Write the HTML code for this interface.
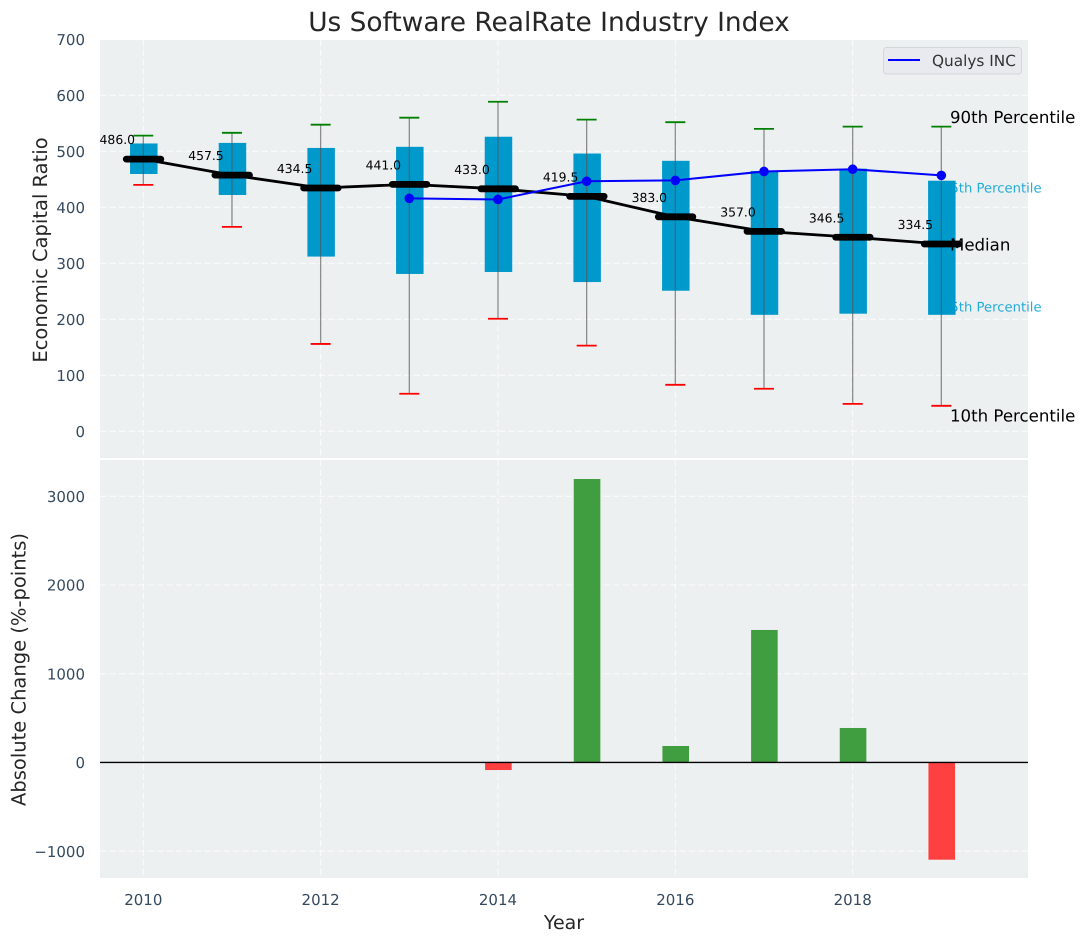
<!DOCTYPE html>
<html lang="en">
<head>
<meta charset="utf-8">
<title>Us Software RealRate Industry Index</title>
<style>
  html, body { margin: 0; padding: 0; background: #fff; }
  svg { display: block; font-family: "DejaVu Sans", "Liberation Sans", sans-serif; text-rendering: geometricPrecision; }
</style>
</head>
<body>
<svg id="chart" width="1085" height="942" viewBox="0 0 1085 942" xmlns="http://www.w3.org/2000/svg">
  <rect width="1085" height="942" fill="#ffffff"/>
  <rect x="100" y="40" width="928" height="418" fill="#ecf0f1"/>
  <rect x="100" y="460" width="928" height="418" fill="#ecf0f1"/>
  <g id="grid"></g>
  <g id="percentile-labels">
    <text x="942" y="192.500" font-size="13.200" fill="#00a0d2" fill-opacity="0.85">75th Percentile</text>
    <text x="942" y="311.500" font-size="13.200" fill="#00a0d2" fill-opacity="0.85">25th Percentile</text>
  </g>
  <g id="marks"></g>
  <g id="annotations">
    <text x="950" y="123" font-size="16.600" fill="#000000">90th Percentile</text>
    <text x="950" y="250.500" font-size="16.600" fill="#000000">Median</text>
    <text x="950" y="421.500" font-size="16.600" fill="#000000">10th Percentile</text>
  </g>
  <g id="axis-labels"></g>
  <text x="549" y="31" font-size="26.400" fill="#262626" text-anchor="middle">Us Software RealRate Industry Index</text>
  <text transform="translate(47,250) rotate(-90)" font-size="19.500" fill="#262626" text-anchor="middle">Economic Capital Ratio</text>
  <text transform="translate(25.500,669.500) rotate(-90)" font-size="19.500" fill="#262626" text-anchor="middle">Absolute Change (%-points)</text>
  <text x="564" y="929" font-size="19" fill="#262626" text-anchor="middle">Year</text>
  <g>
    <rect x="883.500" y="47.500" width="138" height="26.500" rx="3" fill="#e9eaf0" stroke="#d5d6da" stroke-width="1"/>
    <line x1="888" y1="60" x2="920" y2="60" stroke="#0000ff" stroke-width="2"/>
    <text x="932" y="66" font-size="15.300" fill="#333333">Qualys INC</text>
  </g>
</svg>
<script>
const years = [2010, 2011, 2012, 2013, 2014, 2015, 2016, 2017, 2018, 2019];
const p90 = [528, 533, 547.5, 560, 588.5, 556.5, 552, 540, 544, 544];
const p75 = [514, 515, 506, 508, 526, 496, 483, 465, 469, 447.5];
const medianValues = [486.0, 457.5, 434.5, 441.0, 433.0, 419.5, 383.0, 357.0, 346.5, 334.5];
const p25 = [459.5, 422, 312, 281, 284.5, 266.5, 251, 208, 210, 208];
const p10 = [440, 365, 156, 67, 201, 153, 83, 76, 49, 45.5];
const qualysYears = [2013, 2014, 2015, 2016, 2017, 2018, 2019];
const qualysValues = [416, 414, 446.5, 448, 464, 468, 457];
const changeYears = [2014, 2015, 2016, 2017, 2018, 2019];
const changeValues = [-86, 3195, 185, 1493, 388, -1097];
const xTicks = [2010, 2012, 2014, 2016, 2018];
const topTicks = [0, 100, 200, 300, 400, 500, 600, 700];
const bottomTicks = [-1000, 0, 1000, 2000, 3000];

const NS = 'http://www.w3.org/2000/svg';
const xScale = function (v) { return 143.3 + (v - 2010) * 88.67; };
const yTop = function (v) { return 431.3 - v * 0.56; };
const yBottom = function (v) { return 762.4 - v * 0.0887; };
const widthScale = function (d) { return d * 88.67; };

function make(parent, tag, attrs, text) {
  const el = document.createElementNS(NS, tag);
  Object.keys(attrs).forEach(function (k) { el.setAttribute(k, attrs[k]); });
  if (text !== undefined) el.textContent = text;
  document.getElementById(parent).appendChild(el);
  return el;
}

const gridStyle = { stroke: '#ffffff', 'stroke-width': 1, 'stroke-dasharray': '6.5 3', opacity: 0.8 };

xTicks.forEach(function (t) {
  const a = make('grid', 'line', Object.assign({ x1: xScale(t), x2: xScale(t), y1: 40, y2: 458 }, gridStyle));
  
  
  const b = make('grid', 'line', Object.assign({ x1: xScale(t), x2: xScale(t), y1: 460, y2: 878 }, gridStyle));
  
  
  const l = make('axis-labels', 'text', { x: xScale(t), y: 905, 'font-size': 15, fill: '#34495e', 'text-anchor': 'middle' }, String(t));
  
  
});

topTicks.forEach(function (t) {
  if (t < 700) {
    const g = make('grid', 'line', Object.assign({ x1: 100, x2: 1028, y1: yTop(t), y2: yTop(t) }, gridStyle));
    
    
  }
  const l = make('axis-labels', 'text', { x: 85, y: yTop(t) + 5.7, 'font-size': 15, fill: '#34495e', 'text-anchor': 'end' }, String(t));
  
  
});

bottomTicks.forEach(function (t) {
  const g = make('grid', 'line', Object.assign({ x1: 100, x2: 1028, y1: yBottom(t), y2: yBottom(t) }, gridStyle));
  
  
  const label = t < 0 ? '\u2212' + Math.abs(t) : String(t);
  const l = make('axis-labels', 'text', { x: 85, y: yBottom(t) + 5.7, 'font-size': 15, fill: '#34495e', 'text-anchor': 'end' }, label);
  
  
});

years.forEach(function (yr, i) {
  const x = xScale(yr);
  const bw = widthScale(0.31);
  const box = make('marks', 'rect', { x: x - bw / 2 + 0.5, y: yTop(p75[i]), width: bw, height: yTop(p25[i]) - yTop(p75[i]), fill: '#0099cc' });
  
  
  const whisker = make('marks', 'line', { x1: x, x2: x, y1: yTop(p90[i]), y2: yTop(p10[i]), stroke: '#555555', 'stroke-opacity': 0.65, 'stroke-width': 1.3 });
  
  
  const capHigh = make('marks', 'line', { x1: x - 10, x2: x + 10, y1: yTop(p90[i]), y2: yTop(p90[i]), stroke: '#008000', 'stroke-width': 1.8 });
  
  
  const capLow = make('marks', 'line', { x1: x - 10, x2: x + 10, y1: yTop(p10[i]), y2: yTop(p10[i]), stroke: '#ff0000', 'stroke-width': 1.8 });
  
  
});

const medianLine = make('marks', 'polyline', {
  points: years.map(function (yr, i) { return xScale(yr) + ',' + yTop(medianValues[i]); }).join(' '),
  fill: 'none', stroke: '#000000', 'stroke-width': 2.8
});



years.forEach(function (yr, i) {
  const x = xScale(yr);
  const y = yTop(medianValues[i]);
  const bar = make('marks', 'line', { x1: x - 17, x2: x + 17.5, y1: y, y2: y, stroke: '#000000', 'stroke-width': 6.8, 'stroke-linecap': 'round' });
  
  
});

const qualysLine = make('marks', 'polyline', {
  points: qualysYears.map(function (yr, i) { return xScale(yr) + ',' + yTop(qualysValues[i]); }).join(' '),
  fill: 'none', stroke: '#0000ff', 'stroke-width': 2
});



qualysYears.forEach(function (yr, i) {
  const dot = make('marks', 'circle', { cx: xScale(yr), cy: yTop(qualysValues[i]), r: 4.8, fill: '#0000ff' });
  
  
});

years.forEach(function (yr, i) {
  const t = make('marks', 'text', { x: xScale(yr) - 26, y: yTop(medianValues[i]) - 15, 'font-size': 12.4, fill: '#000000', 'text-anchor': 'middle' }, medianValues[i].toFixed(1));
  
  
});

changeYears.forEach(function (yr, i) {
  const v = changeValues[i];
  const bw = widthScale(0.3);
  const r = make('marks', 'rect', {
    x: xScale(yr) - bw / 2 + 0.4,
    y: Math.min(yBottom(v), yBottom(0)),
    width: bw,
    height: Math.abs(yBottom(v) - yBottom(0)),
    fill: v >= 0 ? '#409e40' : '#ff4040'
  });
  
  
});

const zeroLine = make('marks', 'line', { x1: 100, x2: 1028, y1: yBottom(0), y2: yBottom(0), stroke: '#000000', 'stroke-width': 1.4 });


</script>
</body>
</html>
